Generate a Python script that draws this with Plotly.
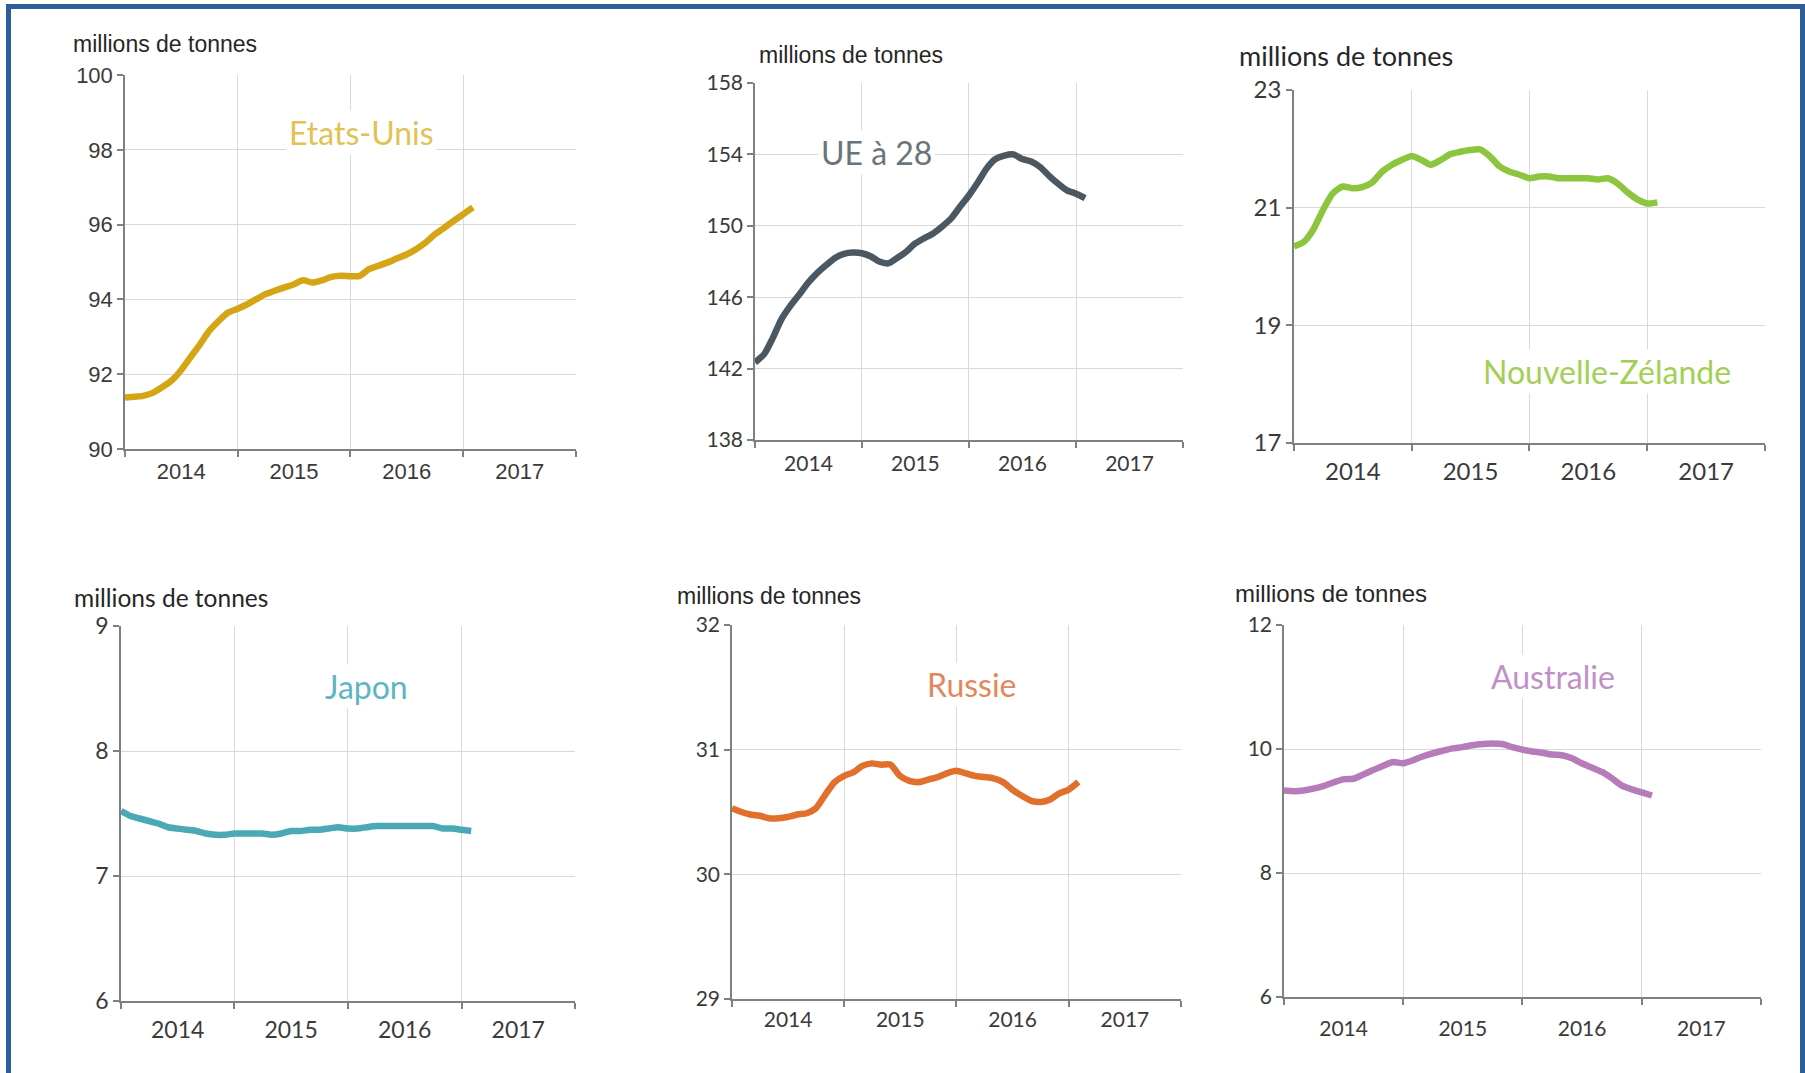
import pandas as pd
import plotly.graph_objects as go

# ---- data (monthly, Jan 2014 -> Feb 2017), millions de tonnes ----
months = pd.date_range("2014-01-01", periods=38, freq="MS")

etats_unis = [91.38, 91.40, 91.42, 91.50, 91.65, 91.83, 92.10, 92.45, 92.80, 93.16,
              93.43, 93.65, 93.75, 93.87, 94.00, 94.14, 94.23, 94.32, 94.40, 94.51,
              94.45, 94.51, 94.60, 94.63, 94.62, 94.63, 94.81, 94.90, 94.99, 95.10,
              95.20, 95.34, 95.52, 95.74, 95.92, 96.10, 96.28, 96.46]
ue28 = [142.35, 142.80, 143.65, 144.76, 145.50, 146.15, 146.80, 147.35, 147.80, 148.20,
        148.43, 148.50, 148.46, 148.28, 148.00, 147.90, 148.20, 148.55, 149.00, 149.30,
        149.57, 149.95, 150.40, 151.05, 151.70, 152.44, 153.20, 153.74, 153.93, 154.00,
        153.74, 153.60, 153.28, 152.80, 152.35, 151.98, 151.80, 151.55]
nouvelle_zelande = [20.34, 20.42, 20.62, 20.96, 21.24, 21.36, 21.33, 21.35, 21.43, 21.61,
                    21.73, 21.81, 21.88, 21.81, 21.73, 21.81, 21.91, 21.95, 21.98, 21.99,
                    21.87, 21.70, 21.61, 21.56, 21.50, 21.53, 21.53, 21.50, 21.50, 21.50,
                    21.50, 21.48, 21.50, 21.41, 21.26, 21.14, 21.07, 21.09]
japon = [7.52, 7.48, 7.46, 7.44, 7.42, 7.39, 7.38, 7.37, 7.36, 7.34,
         7.33, 7.33, 7.34, 7.34, 7.34, 7.34, 7.33, 7.34, 7.36, 7.36,
         7.37, 7.37, 7.38, 7.39, 7.38, 7.38, 7.39, 7.40, 7.40, 7.40,
         7.40, 7.40, 7.40, 7.40, 7.38, 7.38, 7.37, 7.36]
russie = [30.53, 30.50, 30.48, 30.47, 30.45, 30.45, 30.46, 30.48, 30.49, 30.53,
          30.64, 30.74, 30.79, 30.82, 30.87, 30.89, 30.88, 30.88, 30.79, 30.75,
          30.74, 30.76, 30.78, 30.81, 30.83, 30.81, 30.79, 30.78, 30.77, 30.74,
          30.68, 30.63, 30.59, 30.58, 30.60, 30.65, 30.68, 30.74]
australie = [9.33, 9.32, 9.33, 9.36, 9.40, 9.46, 9.51, 9.52, 9.59, 9.66,
             9.73, 9.79, 9.77, 9.82, 9.88, 9.93, 9.97, 10.01, 10.03, 10.06,
             10.08, 10.09, 10.08, 10.03, 9.99, 9.96, 9.94, 9.91, 9.90, 9.85,
             9.77, 9.70, 9.63, 9.53, 9.41, 9.35, 9.30, 9.25]

unit_label = "millions de tonnes"

W, H = 1805, 1073

# panel layout: plot box in px (left, top, right, bottom), colours, fonts
panels = [
    dict(name="Etats-Unis", y=etats_unis, rng=[90, 100], dt=2, box=(125, 75, 576, 449),
         line="#d4a514", lab="#e2c255", lab_xy=(361, 132), title_xy=(71, 44),
         tfont="Liberation Sans", tsize=23, kfont="Liberation Sans", ksize=22, standoff=-4),
    dict(name="UE à 28", y=ue28, rng=[138, 158], dt=4, box=(755, 83, 1183, 440),
         line="#4b5861", lab="#6a747b", lab_xy=(876, 153), title_xy=(757, 55),
         tfont="Liberation Sans", tsize=23, kfont="Lato", ksize=21, standoff=-2),
    dict(name="Nouvelle-Zélande", y=nouvelle_zelande, rng=[17, 23], dt=2, box=(1294, 90, 1765, 443),
         line="#8cc63e", lab="#a3cf55", lab_xy=(1607, 372), title_xy=(1237, 55),
         tfont="Lato", tsize=27, kfont="Lato", ksize=24, standoff=0),
    dict(name="Japon", y=japon, rng=[6, 9], dt=1, box=(121, 626, 575, 1001),
         line="#4aa9b4", lab="#5db5c2", lab_xy=(366, 686), title_xy=(72, 597),
         tfont="Lato", tsize=24.5, kfont="Lato", ksize=23, standoff=2),
    dict(name="Russie", y=russie, rng=[29, 32], dt=1, box=(732, 625, 1181, 999),
         line="#e2702d", lab="#e3875a", lab_xy=(972, 684), title_xy=(675, 596),
         tfont="Liberation Sans", tsize=23, kfont="Lato", ksize=21, standoff=-5),
    dict(name="Australie", y=australie, rng=[6, 12], dt=2, box=(1284, 625, 1761, 997),
         line="#b67bb9", lab="#c28fc9", lab_xy=(1553, 676), title_xy=(1233, 593),
         tfont="Liberation Sans", tsize=24, kfont="Lato", ksize=21, standoff=6),
]

fig = go.Figure()
annotations = []
layout_axes = {}

for i, p in enumerate(panels, start=1):
    sx = "" if i == 1 else str(i)
    l, t, r, b = p["box"]
    fig.add_trace(go.Scatter(
        x=months, y=p["y"], mode="lines", xaxis="x" + sx, yaxis="y" + sx,
        line=dict(color=p["line"], width=6.5, shape="spline", smoothing=0.6),
        showlegend=False, hoverinfo="x+y"))
    layout_axes["xaxis" + sx] = dict(
        domain=[l / W, r / W], anchor="y" + sx, type="date", automargin=False,
        range=["2014-01-01", "2018-01-01"], tick0="2014-01-01", dtick="M12",
        ticklabelmode="period", tickformat="%Y",
        showgrid=True, gridcolor="#d9d9d9", gridwidth=1,
        showline=True, linecolor="#808080", linewidth=1.5,
        ticks="outside", ticklen=6, tickcolor="#808080", tickwidth=1.5,
        tickfont=dict(family=p["kfont"], size=p["ksize"], color="#3a3a3a"),
        ticklabelstandoff=p["standoff"], zeroline=False, fixedrange=True)
    layout_axes["yaxis" + sx] = dict(
        domain=[1 - b / H, 1 - t / H], anchor="x" + sx, automargin=False,
        range=p["rng"], dtick=p["dt"], tick0=p["rng"][0],
        showgrid=True, gridcolor="#d9d9d9", gridwidth=1,
        showline=True, linecolor="#808080", linewidth=1.5,
        ticks="outside", ticklen=6, tickcolor="#808080", tickwidth=1.5,
        tickfont=dict(family=p["kfont"], size=p["ksize"], color="#3a3a3a"),
        zeroline=False, fixedrange=True)
    annotations.append(dict(
        text=unit_label, x=p["title_xy"][0] / W, y=1 - p["title_xy"][1] / H,
        xref="paper", yref="paper", xanchor="left", yanchor="middle", showarrow=False,
        font=dict(family=p["tfont"], size=p["tsize"], color="#262626")))
    annotations.append(dict(
        text=p["name"], x=p["lab_xy"][0] / W, y=1 - p["lab_xy"][1] / H,
        xref="paper", yref="paper", xanchor="center", yanchor="middle", showarrow=False,
        bgcolor="white", borderpad=2,
        font=dict(family="Lato", size=32, color=p["lab"])))

fig.update_layout(
    width=W, height=H, autosize=False,
    margin=dict(l=0, r=0, t=0, b=0, pad=0, autoexpand=False),
    paper_bgcolor="white", plot_bgcolor="white",
    annotations=annotations,
    shapes=[dict(type="rect", xref="paper", yref="paper",
                 x0=8.5 / W, x1=1802.5 / W, y0=-0.05, y1=1 - 6.5 / H,
                 line=dict(color="#2c5f99", width=5), layer="above")],
    **layout_axes)

post = ("document.body.style.margin='0';document.body.style.overflow='hidden';"
        "var d=document.getElementById('{plot_id}');"
        "d.style.position='absolute';d.style.left='0px';d.style.top='0px';")
fig.write_html("out.html", post_script=post, config={"displayModeBar": False})
